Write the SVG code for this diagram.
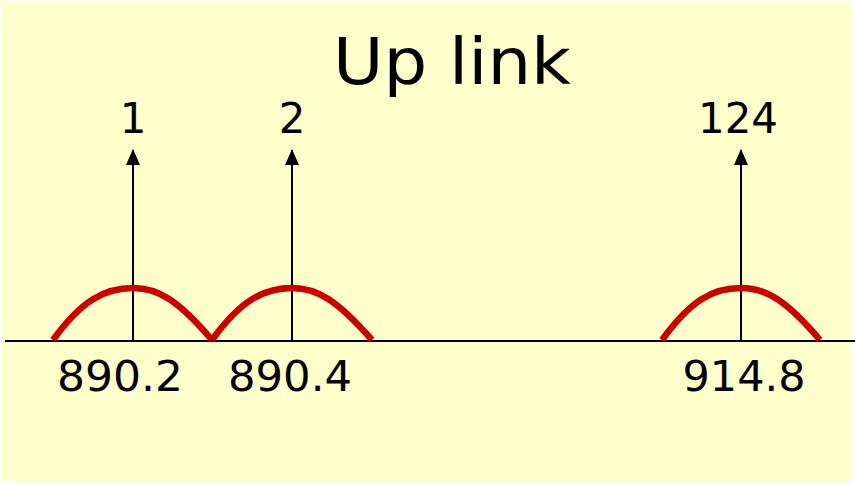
<svg xmlns="http://www.w3.org/2000/svg" width="855" height="485" viewBox="0 0 855 485">
<style>
.t{font-family:"DejaVu Sans","Verdana",sans-serif;fill:#000;text-anchor:middle}
.ar{stroke:#000;stroke-width:2;fill:none}
.cv{stroke:#CC0000;stroke-width:6.5;fill:none;stroke-linecap:butt;stroke-linejoin:miter}
</style>
<defs>
<marker id="ah" viewBox="0 0 16 14" refX="15" refY="7" markerWidth="16" markerHeight="14" markerUnits="userSpaceOnUse" orient="auto">
<path d="M0,0 L16,7 L0,14 Z" fill="#000"/>
</marker>
</defs>
<rect x="2" y="2" width="850" height="480" fill="#FFFFCC"/>
<text class="t" x="452" y="84" font-size="64" textLength="238" lengthAdjust="spacingAndGlyphs">Up link</text>
<g id="axis">
<line x1="5" y1="341" x2="855" y2="341" stroke="#000" stroke-width="2"/>
</g>
<g id="connectors">
<line class="ar" x1="133" y1="341" x2="133" y2="150" marker-end="url(#ah)"/>
<line class="ar" x1="292" y1="341" x2="292" y2="150" marker-end="url(#ah)"/>
<line class="ar" x1="741" y1="341" x2="741" y2="150" marker-end="url(#ah)"/>
</g>
<g id="ch1">
<path class="cv" d="M53,340 C82,300 105,288 133,288 C158,288 178,300 212,340"/>
<text class="t" x="133" y="133" font-size="42">1</text>
<text class="t" x="120" y="391" font-size="42" textLength="126" lengthAdjust="spacingAndGlyphs">890.2</text>
</g>
<g id="ch2">
<path class="cv" d="M212,340 C241,300 264,288 292,288 C317,288 337,300 372,340"/>
<text class="t" x="292" y="133" font-size="42">2</text>
<text class="t" x="290" y="391" font-size="42" textLength="124" lengthAdjust="spacingAndGlyphs">890.4</text>
</g>
<g id="ch124">
<path class="cv" d="M662,340 C691,300 713,288 741,288 C766,288 786,300 820,340"/>
<text class="t" x="738" y="133" font-size="42" textLength="80" lengthAdjust="spacingAndGlyphs">124</text>
<text class="t" x="744" y="391" font-size="42" textLength="123" lengthAdjust="spacingAndGlyphs">914.8</text>
</g>
</svg>
